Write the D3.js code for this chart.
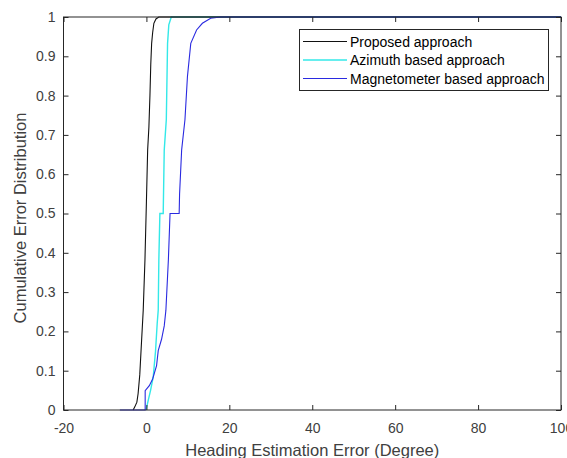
<!DOCTYPE html>
<html><head><meta charset="utf-8">
<script src="https://cdn.jsdelivr.net/npm/d3@7"></script>
<style>body{margin:0;background:#fff}svg{display:block}text{font-family:"Liberation Sans",Arial,sans-serif}</style>
</head><body><svg id="c" width="567" height="458"></svg>
<script>
const seriesNames = ["Proposed approach","Azimuth based approach","Magnetometer based approach"];
const seriesColors = ["#111111","#33e8e8","#2a2ae0"];
const proposed = [[-3.2,0],[-2.8,0.008],[-2.3,0.02],[-2.0,0.042],[-1.6,0.09],[-1.2,0.17],[-0.77,0.254],[-0.35,0.383],[0.0,0.53],[0.3,0.662],[0.6,0.72],[0.85,0.8],[1.05,0.88],[1.26,0.933],[1.5,0.96],[1.8,0.984],[2.3,0.995],[3.0,1],[100,1]];
const azimuth = [[-0.1,0],[0.45,0.025],[1.0,0.05],[1.65,0.085],[2.2,0.15],[2.6,0.22],[2.85,0.254],[3.0,0.383],[3.25,0.5],[4.05,0.5],[4.3,0.662],[4.8,0.739],[5.1,0.933],[5.4,0.98],[6.0,1],[100,1]];
const magnetometer = [[-6.4,0],[-0.3,0],[-0.3,0.049],[0.7,0.062],[1.5,0.079],[2.45,0.113],[2.85,0.151],[3.65,0.18],[4.3,0.214],[4.7,0.254],[5.3,0.383],[5.7,0.5],[7.9,0.5],[8.0,0.55],[8.5,0.662],[9.3,0.739],[9.9,0.849],[10.7,0.933],[12.1,0.967],[13.5,0.984],[15.5,0.997],[17.9,1],[100,1]];
const xTicks = [-20,0,20,40,60,80,100];
const yTicks = [0,0.1,0.2,0.3,0.4,0.5,0.6,0.7,0.8,0.9,1];
const xLabel = "Heading Estimation Error (Degree)";
const yLabel = "Cumulative Error Distribution";

const svg = d3.select("#c");
const L=63.5, R=561, T=17, B=410;
const x = d3.scaleLinear().domain([-20,100]).range([L,R]);
const y = d3.scaleLinear().domain([0,1]).range([B,T]);
const axisColor = "#262626", textColor = "#404040";

const line = d3.line().x(d=>x(d[0])).y(d=>y(d[1]));
const data = [proposed, azimuth, magnetometer];
svg.append("g").selectAll("path").data([1,0,2]).join("path")
  .attr("d", i=>line(data[i])).attr("fill","none")
  .attr("stroke", i=>seriesColors[i]).attr("stroke-width",i=>i===1?1.4:1.1);

const g = svg.append("g");
g.append("rect").attr("x",L).attr("y",T).attr("width",R-L).attr("height",B-T)
  .attr("fill","none").attr("stroke",axisColor).attr("stroke-width",1);

const xa = d3.axisBottom(x).tickValues(xTicks).tickSize(-5).tickPadding(13).tickFormat(d=>String(d));
const xg = svg.append("g").attr("transform",`translate(0,${B})`).call(xa);
const xt = svg.append("g").attr("transform",`translate(0,${T})`).call(d3.axisTop(x).tickValues(xTicks).tickSize(-5).tickFormat(""));
const ya = d3.axisLeft(y).tickValues(yTicks).tickSize(-5).tickPadding(8).tickFormat(d=>d===0||d===1?String(d):d3.format(".1f")(d));
const yg = svg.append("g").attr("transform",`translate(${L},0)`).call(ya);
const yr = svg.append("g").attr("transform",`translate(${R},0)`).call(d3.axisRight(y).tickValues(yTicks).tickSize(-5).tickFormat(""));
[xg,xt,yg,yr].forEach(a=>{
  a.select(".domain").remove();
  a.selectAll(".tick line").attr("stroke",axisColor);
  a.selectAll("text").attr("fill",textColor).style("font-size","14px").style("font-family",'"Liberation Sans",Arial,sans-serif');
});

svg.append("text").attr("x",(L+R)/2).attr("y",456).attr("text-anchor","middle")
  .attr("fill",textColor).style("font-size","16.5px").text(xLabel);
svg.append("text").attr("transform",`translate(25.5,${218}) rotate(-90)`).attr("text-anchor","middle")
  .attr("fill",textColor).style("font-size","16.5px").text(yLabel);

const lg = svg.append("g");
lg.append("rect").attr("x",299.5).attr("y",29.5).attr("width",249).attr("height",61)
  .attr("fill","#fff").attr("stroke",axisColor).attr("stroke-width",1);
seriesNames.forEach((n,i)=>{
  const yy = 41.5 + i*18.5;
  lg.append("line").attr("x1",303).attr("x2",347).attr("y1",yy).attr("y2",yy)
    .attr("stroke",seriesColors[i]).attr("stroke-width",i===1?1.4:1.1);
  lg.append("text").attr("x",350).attr("y",yy+5).attr("fill","#000")
    .style("font-size","14px").text(n);
});
</script></body></html>
